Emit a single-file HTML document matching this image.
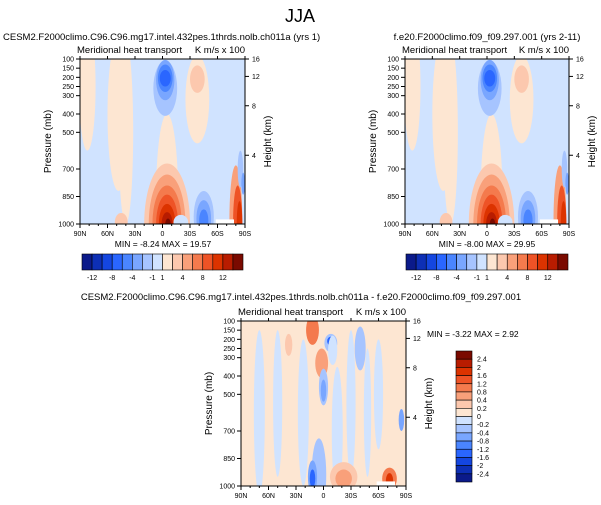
<!DOCTYPE html>
<html><head><meta charset="utf-8"><style>
body{margin:0;background:#fff;}
svg{display:block;font-family:"Liberation Sans",sans-serif;}
</style></head><body>
<svg id="fig" width="601" height="505" viewBox="0 0 601 505">
<text x="300" y="22" font-size="18" text-anchor="middle">JJA</text>
</svg>
<script>
// ---- data ----
const latTicks=[90,60,30,0,-30,-60,-90];
const latLabels=["90N","60N","30N","0","30S","60S","90S"];
const pTicks=[100,150,200,250,300,400,500,700,850,1000];
const hTicks=[16,12,8,4];
const hTickP=[100,195,355,625];
const topPalette=["#0b1a8a","#0d2fb5","#1446e0","#2a66ff","#4a85ff","#79a6ff","#a6c4ff","#d0e3ff","#fde6d2","#fcc8ae","#f9a07a","#f47a4d","#ee5326","#dc3300","#b81c00","#7a0a00"];
const topBarLabels=["-12","-8","-4","-1","1","4","8","12"];
const diffPalette=["#0b1a8a","#0d2fb5","#1446e0","#2a66ff","#4a85ff","#79a6ff","#a6c4ff","#d0e3ff","#fde6d2","#fcc8ae","#f9a07a","#f47a4d","#ee5326","#dc3300","#b81c00","#7a0a00"];
const diffBarLabels=["2.4","2","1.6","1.2","0.8","0.4","0.2","0","-0.2","-0.4","-0.8","-1.2","-1.6","-2","-2.4"];
// blobs for model panels: lat, pressure, rx(deg), ry(mb), level index
const mLat=[82,48,40,-38,-5,-5,-3,-3,-3,-3,-38,-5,-5,-5,-5,-5,-5,-6,-45,-45,-45,-80,-82,-84,45,-20,-85,-88];
const mP=[250,400,500,320,900,850,260,215,205,205,210,1000,1000,1000,1000,1000,1000,1000,960,970,980,980,990,995,990,990,700,780];
const mRx=[9,12,8,13,18,12,13,10,8,6,8,25,20,16,12,9,6,3,11,8,5,7,5,3,7,8,3,2];
const mRy=[350,420,500,240,250,450,150,110,75,45,75,330,270,210,160,110,65,30,140,100,60,300,200,120,50,40,100,60];
const mLev=[8,8,8,8,8,8,6,5,4,3,9,9,10,11,12,13,14,15,6,5,4,10,12,13,9,7,6,5];
// diff panel blobs
const dLat=[70,50,22,-30,-48,-15,12,-8,-8,2,0,0,5,12,12,-22,-22,-72,-72,-85,-10,-40,38,-60];
const dP=[600,550,600,550,600,700,150,220,210,330,460,480,940,950,960,950,960,960,970,640,260,250,230,500];
const dRx=[6,5,6,5,4,6,7,7,4,7,5,3,8,5,3,15,9,8,4,3,5,6,4,5];
const dRy=[450,400,400,400,350,350,80,50,25,80,100,60,200,90,50,80,50,60,40,60,80,120,60,300];
const dLev=[7,7,7,7,7,7,11,6,3,10,6,5,6,5,3,9,10,11,13,5,7,6,9,7];

const NS="http://www.w3.org/2000/svg";
const fig=document.getElementById('fig');
function mk(tag,attrs,parent){const e=document.createElementNS(NS,tag);for(const k in attrs)e.setAttribute(k,attrs[k]);(parent||fig).appendChild(e);return e;}
function txt(x,y,s,size,anchor,parent){const t=mk('text',{x:x,y:y,'font-size':size,'text-anchor':anchor||'start'},parent);t.textContent=s;return t;}

function panel(id,x0,y0,w,h,bg,pal,lats,ps,rxs,rys,levs,notch){
  const xs=l=>x0+(90-l)/180*w, ys=p=>y0+(p-100)/900*h;
  const g=mk('g',{});
  
  
  const cp=mk('clipPath',{id:'cp-'+id},g);mk('rect',{x:x0,y:y0,width:w,height:h},cp);
  const f=mk('g',{'clip-path':'url(#cp-'+id+')'},g);
  mk('rect',{x:x0,y:y0,width:w,height:h,fill:pal[bg]},f);
  for(let i=0;i<lats.length;i++){
    const e=mk('ellipse',{cx:xs(lats[i]),cy:ys(ps[i]),rx:rxs[i]/180*w,ry:rys[i]/900*h,fill:pal[levs[i]]},f);
    
    
  }
  if(notch) mk('rect',{x:xs(-58),y:ys(975),width:xs(-78)-xs(-58),height:ys(1000)-ys(975),fill:'#fff'},f);
  mk('rect',{x:x0,y:y0,width:w,height:h,fill:'none',stroke:'#000','stroke-width':1},g);
  latTicks.forEach((l,i)=>{const x=xs(l);mk('line',{x1:x,y1:y0+h,x2:x,y2:y0+h+4,stroke:'#000'},g);mk('line',{x1:x,y1:y0,x2:x,y2:y0-3,stroke:'#000'},g);
    const t=txt(x,y0+h+12,latLabels[i],7,'middle',g);});
  for(let l=80;l>-90;l-=10){if(l%30)mk('line',{x1:xs(l),y1:y0+h,x2:xs(l),y2:y0+h+2,stroke:'#000'},g);}
  pTicks.forEach(p=>{const y=ys(p);mk('line',{x1:x0-4,y1:y,x2:x0,y2:y,stroke:'#000'},g);
    const t=txt(x0-6,y+2.5,String(p),7,'end',g);});
  hTicks.forEach((hv,i)=>{const y=ys(hTickP[i]);mk('line',{x1:x0+w,y1:y,x2:x0+w+4,y2:y,stroke:'#000'},g);
    const t=txt(x0+w+7,y+2.5,String(hv),7,'start',g);});
  const a=txt(x0-3,y0-6,'Meridional heat transport',9.5,'start',g);
  const b=txt(x0+w,y0-6,'K m/s x 100',9.5,'end',g);
  const yl=txt(0,0,'Pressure (mb)',10,'middle',g);yl.setAttribute('transform','translate('+(x0-29)+','+(y0+h/2)+') rotate(-90)');
  
  const hl=txt(0,0,'Height (km)',10,'middle',g);hl.setAttribute('transform','translate('+(x0+w+26)+','+(y0+h/2)+') rotate(-90)');
  
}
function hbar(id,x0,y0,w,h,pal,labels){
  const g=mk('g',{});
  const bw=w/pal.length;
  pal.forEach((c,i)=>mk('rect',{x:x0+i*bw,y:y0,width:bw,height:h,fill:c,stroke:'#000','stroke-width':0.6},g));
  labels.forEach((s,i)=>{const k=[1,3,5,7,8,10,12,14][i];txt(x0+k*bw,y0+h+10,s,7,'middle',g);});
}
panel('left-panel',80,59,165,165,7,topPalette,mLat,mP,mRx,mRy,mLev,true);
panel('right-panel',405,59,164,165,7,topPalette,mLat,mP,mRx,mRy,mLev,true);
panel('diff-panel',241,321,165,165,8,diffPalette,dLat,dP,dRx,dRy,dLev,true);
let t;
t=txt(3,40,'CESM2.F2000climo.C96.C96.mg17.intel.432pes.1thrds.nolb.ch011a (yrs 1)',9.5);
t=txt(487,40,'f.e20.F2000climo.f09_f09.297.001 (yrs 2-11)',9.5,'middle');
t=txt(163,247,'MIN = -8.24  MAX = 19.57',8.5,'middle');
t=txt(487,247,'MIN = -8.00  MAX = 29.95',8.5,'middle');
t=txt(301,300,'CESM2.F2000climo.C96.C96.mg17.intel.432pes.1thrds.nolb.ch011a - f.e20.F2000climo.f09_f09.297.001',9.5,'middle');
t=txt(427,337,'MIN = -3.22  MAX =  2.92',8.5);
hbar('left-colorbar',82,254,161,16,topPalette,topBarLabels);
hbar('right-colorbar',406,254,162,16,topPalette,topBarLabels);
(function(){const g=mk('g',{});
  const x0=456,y0=351,w=16,h=131,bh=h/diffPalette.length;
  for(let i=0;i<diffPalette.length;i++)mk('rect',{x:x0,y:y0+i*bh,width:w,height:bh,fill:diffPalette[diffPalette.length-1-i],stroke:'#000','stroke-width':0.6},g);
  diffBarLabels.forEach((s,i)=>txt(x0+w+5,y0+(i+1)*bh+2.5,s,7,'start',g));
})();
</script>
</body></html>
